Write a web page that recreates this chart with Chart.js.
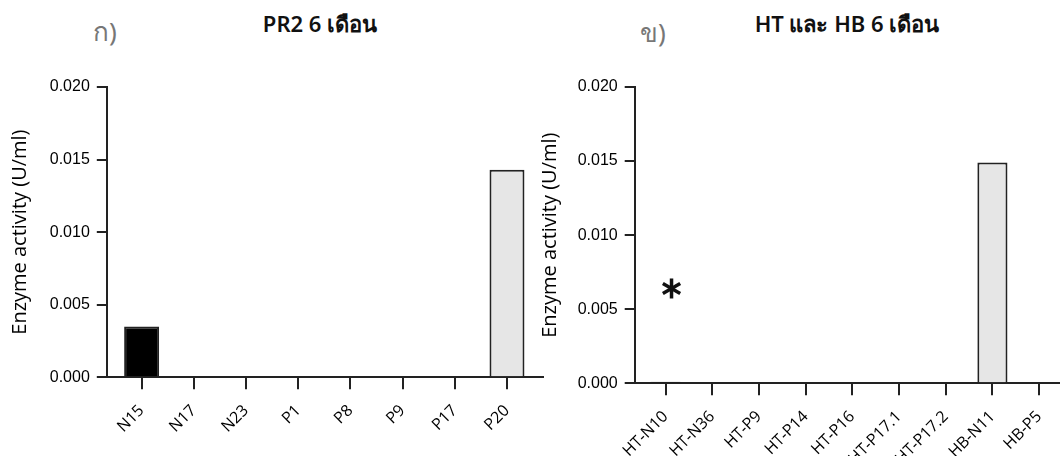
<!DOCTYPE html>
<html>
<head>
<meta charset="utf-8">
<script src="https://cdn.jsdelivr.net/npm/chart.js@4.4.1/dist/chart.umd.min.js"></script>
<style>
  body { margin: 0; background: #fff; width: 1060px; height: 456px; overflow: hidden; position: relative; font-family: "Noto Sans", sans-serif; }
  .box { position: absolute; top: 0; height: 456px; }
  #boxA { left: 0; width: 545px; }
  #boxB { left: 530px; width: 530px; }
  .tag { position: absolute; color: #777; font-size: 26px; line-height: 1; }
  .ttl { position: absolute; font-size: 22px; font-weight: 600; color: #111; line-height: 1; white-space: nowrap; transform: translateX(-50%); }
</style>
</head>
<body>
<div class="tag" style="left:93px; top:18px;">ก)</div>
<div class="ttl" style="left:320px; top:12px;">PR2 6 เดือน</div>
<div class="tag" style="left:640px; top:19px;">ข)</div>
<div class="ttl" style="left:847px; top:12px;">HT และ HB 6 เดือน</div>

<div class="box" id="boxA"><canvas id="chart-pr2"></canvas></div>
<div class="box" id="boxB"><canvas id="chart-hthb"></canvas></div>

<script>
// values
const prLabels = ['N15', 'N17', 'N23', 'P1', 'P8', 'P9', 'P17', 'P20'];
const prValues = [0.0035, 0, 0, 0, 0, 0, 0, 0.0143];

const hLabels = ['HT-N10', 'HT-N36', 'HT-P9', 'HT-P14', 'HT-P16', 'HT-P17.1', 'HT-P17.2', 'HB-N11', 'HB-P5'];
const hValues = [0.0001, 0, 0, 0, 0, 0, 0, 0.0149, 0];

const yTicks = [0, 0.005, 0.010, 0.015, 0.020];
const starMark = { label: 'HT-N10', value: 0.0064 };

// bar fills
const prFills = ['#000', '#000', '#000', '#e6e6e6', '#e6e6e6', '#e6e6e6', '#e6e6e6', '#e6e6e6'];
const hFills = ['#000', '#000', '#e6e6e6', '#e6e6e6', '#e6e6e6', '#e6e6e6', '#e6e6e6', '#e6e6e6', '#e6e6e6'];

const AXIS = '#222';

function buildChart(canvasId, labels, values, fills, o) {
    const ctx = document.getElementById(canvasId);
    if (!ctx) return null;

    return new Chart(ctx.getContext('2d'), {
        type: 'bar',
        data: {
            datasets: [{
                data: values.map((v, i) => ({ x: i, y: v })),
                backgroundColor: fills,
                borderColor: AXIS,
                borderWidth: 2,
                categoryPercentage: 1,
                barPercentage: o.barPct,
            }]
        },
        options: {
            responsive: true,
            maintainAspectRatio: false,
            animation: false,
            layout: { padding: { top: o.top, right: o.right, left: 0, bottom: 0 } },
            plugins: {
                legend: { display: false },
                tooltip: { enabled: false }
            },
            scales: {
                x: {
                    type: 'linear',
                    offset: false,
                    min: o.xMin,
                    max: o.xMax,
                    afterBuildTicks: s => { s.ticks = labels.map((_, i) => ({ value: i })); },
                    afterFit: s => { s.height = o.xHeight; s.paddingLeft = 0; s.paddingRight = 0; },
                    border: { display: true, color: AXIS, width: 2 },
                    grid: { offset: false, drawOnChartArea: false, drawTicks: true, tickLength: 12, color: AXIS, lineWidth: 2 },
                    ticks: {
                        autoSkip: false,
                        maxRotation: 45,
                        minRotation: 45,
                        padding: 12,
                        color: '#000',
                        font: { family: '"Open Sans"', size: 16 },
                        callback: v => labels[v]
                    }
                },
                y: {
                    min: 0,
                    max: 0.02,
                    afterBuildTicks: s => { s.ticks = yTicks.map(v => ({ value: v })); },
                    afterFit: s => { s.width = o.yWidth; },
                    border: { display: true, color: AXIS, width: 2 },
                    grid: { drawOnChartArea: false, drawTicks: true, tickLength: 10, color: AXIS, lineWidth: 2 },
                    ticks: {
                        padding: 7,
                        color: '#000',
                        font: { family: '"Liberation Sans", Arial', size: 16 },
                        callback: v => v.toFixed(3)
                    },
                    title: {
                        display: true,
                        text: 'Enzyme activity (U/ml)',
                        color: '#000',
                        font: { family: '"Open Sans"', size: 20 },
                        padding: { top: 8, bottom: 0 }
                    }
                }
            }
        },
        plugins: o.plugins || []
    });
}

// asterisk above HT-N10
const starPlugin = {
    id: 'starMark',
    afterDatasetsDraw(chart) {
        const { ctx, scales } = chart;
        const cx = scales.x.getPixelForValue(hLabels.indexOf(starMark.label)) + 6;
        const cy = scales.y.getPixelForValue(starMark.value);
        const r = 10;
        ctx.save();
        ctx.strokeStyle = '#111';
        ctx.lineWidth = 3.5;
        [90, 30, -30].forEach(a => {
            const rad = a * Math.PI / 180;
            ctx.beginPath();
            ctx.moveTo(cx - r * Math.cos(rad), cy - r * Math.sin(rad));
            ctx.lineTo(cx + r * Math.cos(rad), cy + r * Math.sin(rad));
            ctx.stroke();
        });
        ctx.restore();
    }
};

buildChart('chart-pr2', prLabels, prValues, prFills, {
    top: 87, right: 2, yWidth: 106.8, xHeight: 78.8,
    xMin: -0.667, xMax: 7.69, barPct: 0.67
});

buildChart('chart-hthb', hLabels, hValues, hFills, {
    top: 87, right: 0, yWidth: 104.7, xHeight: 72.7,
    xMin: -0.66, xMax: 8.447, barPct: 0.645,
    plugins: [starPlugin]
});
</script>
</body>
</html>
